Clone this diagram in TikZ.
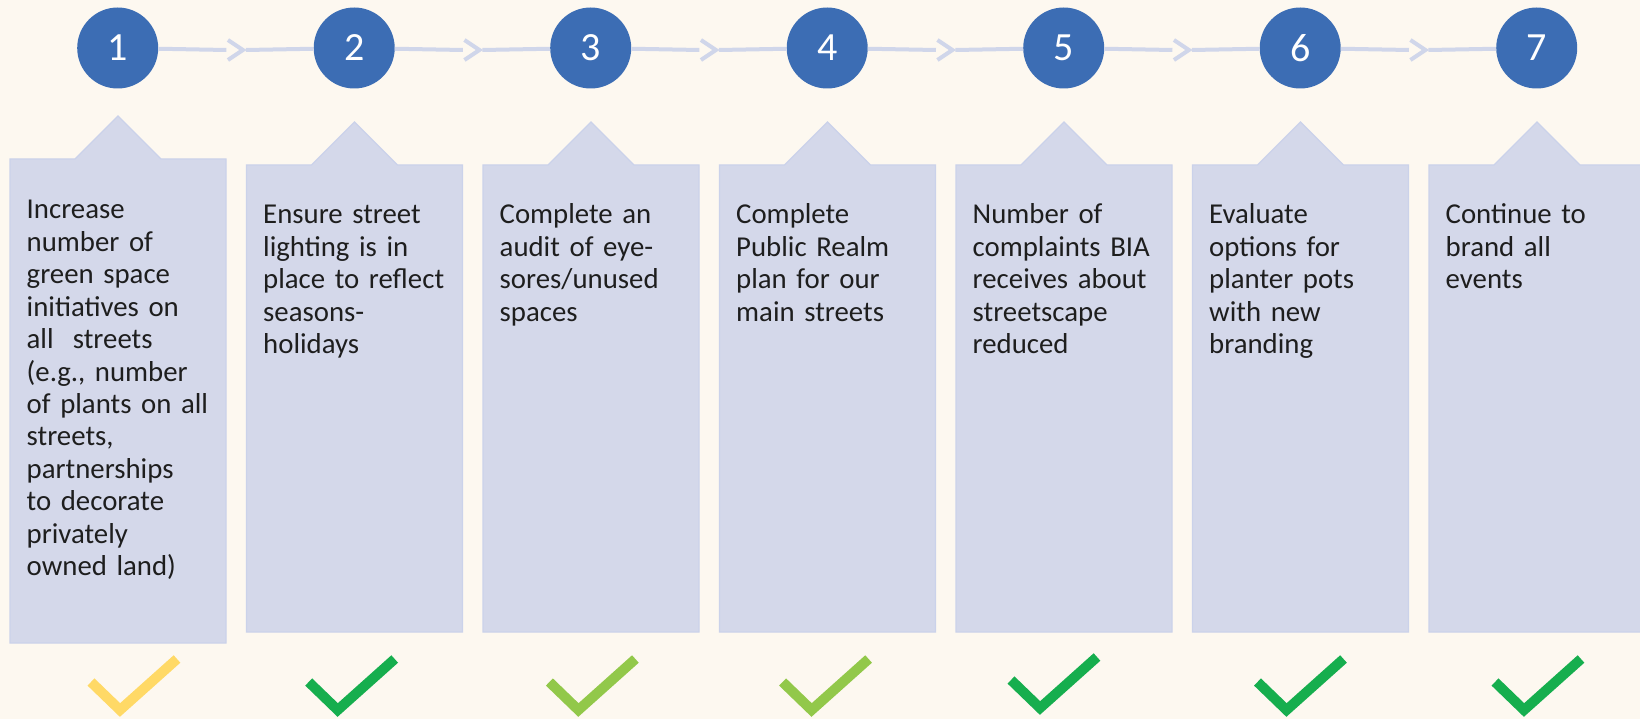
\documentclass[tikz,border=0pt]{standalone}
\usepackage{fontspec}
\setmainfont{Carlito}
\usetikzlibrary{calc}
\definecolor{bg}{HTML}{FDF8F0}
\definecolor{boxfill}{HTML}{D4D8EA}
\definecolor{boxedge}{HTML}{CBD2EA}
\definecolor{circ}{HTML}{3C6DB4}
\definecolor{conncol}{HTML}{D0D6EA}
\definecolor{ckyellow}{HTML}{FFD966}
\definecolor{ckdark}{HTML}{16AE4E}
\definecolor{cklight}{HTML}{92C84A}
\definecolor{txt}{HTML}{1E1E1E}
\tikzset{
  num/.style={circle, fill=circ, minimum size=81pt, inner sep=0pt, text=white, font=\fontsize{40}{48}\selectfont},
  conn/.style={draw=conncol, line width=4pt},
  chev/.style={draw=conncol, line width=4pt, line join=miter},
  panel/.style={fill=boxfill, draw=boxedge, line width=1.2pt},
  desc/.style={anchor=base west, text width=205pt, align=left, inner sep=0pt, text=txt, font=\fontsize{28.8}{32.4}\selectfont},
  tick/.style={line width=10pt, line join=miter},
}
\begin{document}
\begin{tikzpicture}[x=1pt,y=-1pt]
\useasboundingbox (0,0) rectangle (1640,719);
\clip (0,0) rectangle (1640,719);
\fill[bg] (0,0) rectangle (1640,719);
% panels
\foreach \i in {1,...,7}{
  \pgfmathsetmacro\L{10+236.5*(\i-1)}
  \pgfmathsetmacro\T{ifthenelse(\i==1,159,165)}
  \pgfmathsetmacro\B{ifthenelse(\i==1,643,632)}
  \pgfmathsetmacro\C{\L+108}
  \draw[panel] (\L,\T) -- (\C-43,\T) -- (\C,\T-43) -- (\C+43,\T) -- (\L+216,\T) -- (\L+216,\B) -- (\L,\B) -- cycle;
}
% circles
\foreach \i in {1,...,7}{
  \pgfmathsetmacro\cx{117.7+236.5*(\i-1)}
  \node[num] (c\i) at (\cx,48) {\i};
}
% connectors
\foreach \i [evaluate=\i as \j using int(\i+1)] in {1,...,6}{
  \pgfmathsetmacro\mx{117.7+236.5*(\i-1)+118.25}
  \coordinate (a\i) at (\mx-9.5,50);
  \coordinate (b\i) at (\mx+10,50);
  \draw[conn] (c\i) -- (a\i);
  \draw[chev] (\mx-8,40) -- (\mx+7,50) -- (\mx-8,60);
  \draw[conn] (b\i) -- (c\j);
}
% texts
\node[desc] (t1) at (26.5,219) {Increase\\number of\\green space\\initiatives on\\all\ \ streets\\(e.g., number\\of plants on all\\streets,\\partnerships\\to decorate\\privately\\owned land)};
\node[desc] (t2) at (263,224) {Ensure street\\lighting is in\\place to reflect\\seasons-\\holidays};
\node[desc] (t3) at (499.5,224) {Complete an\\audit of eye-\\sores/unused\\spaces};
\node[desc] (t4) at (736,224) {Complete\\Public Realm\\plan for our\\main streets};
\node[desc] (t5) at (972.5,224) {Number of\\complaints BIA\\receives about\\streetscape\\reduced};
\node[desc] (t6) at (1209,224) {Evaluate\\options for\\planter pots\\with new\\branding};
\node[desc] (t7) at (1445.5,224) {Continue to\\brand all\\events};
% ticks
\foreach \vx/\vy/\col in {120/710/ckyellow, 337.7/710/ckdark, 578.4/710/cklight, 811.6/710/cklight, 1040/708/ckdark, 1286.5/710/ckdark, 1524/710/ckdark}{
  \draw[tick, draw=\col] (\vx-29,\vy-28) -- (\vx,\vy) -- (\vx+57,\vy-51);
}
\end{tikzpicture}
\end{document}
